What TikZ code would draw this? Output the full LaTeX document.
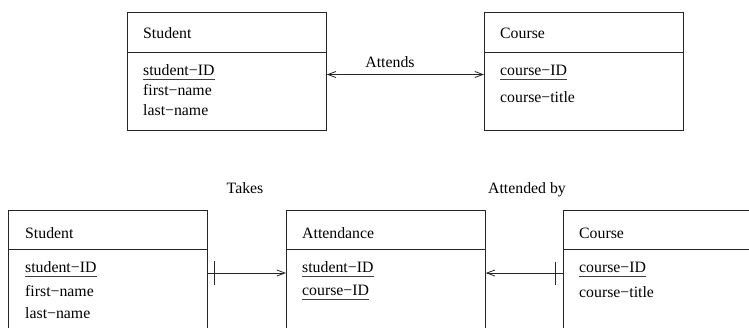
\documentclass[tikz,border=0pt]{standalone}
\usepackage{fontspec}
\setmainfont{Liberation Serif}
\usetikzlibrary{arrows.meta,calc}
\begin{document}
\begin{tikzpicture}[x=1pt,y=-1pt,
  line/.style={line width=0.8pt, draw=black!85},
  entity/.style={line, rectangle, inner sep=0pt, anchor=north west, minimum width=199pt},
  txt/.style={anchor=base west, inner sep=0pt, font=\fontsize{15.8}{18}\selectfont},
  rel/.style={anchor=base, inner sep=0pt, font=\fontsize{15.8}{18}\selectfont},
  conn/.style={line, -{Straight Barb[length=8pt,width=6pt]}},
  keyline/.style={line width=0.8pt, draw=black!75}
]
\useasboundingbox (0,0) rectangle (749,327);
\clip (0,0) rectangle (749,327);

% upper pair of entities
\node[entity, minimum height=118pt] (stuA) at (127,12) {};
\node[entity, minimum height=118pt] (crsA) at (484,12) {};
\draw[line] ($(stuA.north west)+(0,40)$) -- ($(stuA.north east)+(0,40)$);
\draw[line] ($(crsA.north west)+(0,40)$) -- ($(crsA.north east)+(0,40)$);

\node[txt] (stuAt) at (143,38.5) {Student};
\node[txt] (stuAk) at (143,75) {student−ID};
\node[txt] (stuAf) at (143,95) {first−name};
\node[txt] (stuAl) at (143,115) {last−name};
\node[txt] (crsAt) at (500,38.5) {Course};
\node[txt] (crsAk) at (500,75) {course−ID};
\node[txt] (crsAc) at (500,102) {course−title};

\coordinate (rowA) at (0,74.5);
\draw[conn, {Straight Barb[length=8pt,width=6pt]}-{Straight Barb[length=8pt,width=6pt]}]
  (stuA.east |- rowA) -- (crsA.west |- rowA);
\node[rel] (attends) at (390,67) {Attends};

% lower row: entities linked through Attendance
\node[entity, minimum height=140pt] (stuB) at (8,210) {};
\node[entity, minimum height=140pt] (att) at (286,210) {};
\node[entity, minimum height=140pt] (crsB) at (563,210) {};
\foreach \b in {stuB,att,crsB}
  \draw[line] ($(\b.north west)+(0,39)$) -- ($(\b.north east)+(0,39)$);

\node[txt] (stuBt) at (25,238) {Student};
\node[txt] (stuBk) at (25,272) {student−ID};
\node[txt] (stuBf) at (25,296) {first−name};
\node[txt] (stuBl) at (25,318) {last−name};
\node[txt] (attt) at (302,238) {Attendance};
\node[txt] (attk1) at (302,272) {student−ID};
\node[txt] (attk2) at (302,295) {course−ID};
\node[txt] (crsBt) at (579,238) {Course};
\node[txt] (crsBk) at (579,272) {course−ID};
\node[txt] (crsBc) at (579,297) {course−title};

% key attributes are underlined
\foreach \k in {stuAk,crsAk,stuBk,attk1,attk2,crsBk}
  \draw[keyline] ($(\k.base west)+(0,4.5)$) -- ($(\k.base east)+(0,4.5)$);

\coordinate (rowB) at (0,273);
\draw[conn] (stuB.east |- rowB) -- (att.west |- rowB);
\draw[conn] (crsB.west |- rowB) -- (att.east |- rowB);
\draw[line] ($(stuB.east |- rowB)+(7,-12)$) -- ($(stuB.east |- rowB)+(7,12)$);
\draw[line] ($(crsB.west |- rowB)+(-8,-11)$) -- ($(crsB.west |- rowB)+(-8,12)$);

\node[rel] (takes) at (245,193) {Takes};
\node[rel] (attby) at (527,193) {Attended by};
\end{tikzpicture}
\end{document}
